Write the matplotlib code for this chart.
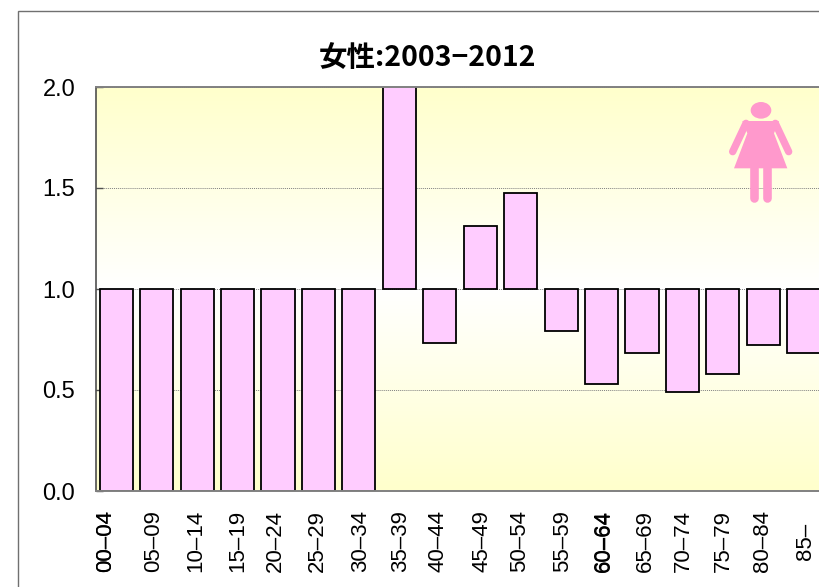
import numpy as np
import matplotlib
matplotlib.use("Agg")
import matplotlib.pyplot as plt
from matplotlib.patches import Ellipse, Polygon, Rectangle
from matplotlib.lines import Line2D
from matplotlib.transforms import ScaledTranslation

plt.rcParams['font.family'] = ['Noto Sans CJK JP', 'DejaVu Sans']

W, H = 820, 587

ages = ['00-04', '05-09', '10-14', '15-19', '20-24', '25-29', '30-34', '35-39', '40-44',
        '45-49', '50-54', '55-59', '60-64', '65-69', '70-74', '75-79', '80-84', '85-']
values = [0, 0, 0, 0, 0, 0, 0, 2.4, 0.735, 1.31, 1.475, 0.79, 0.53, 0.685, 0.49, 0.58, 0.725, 0.685]
base = 1.0
yticks = [0.0, 0.5, 1.0, 1.5, 2.0]
title = '女性:2003\u22122012'
# the labels in the source sit a bit off their bars (pixels)
label_shift = [-11, -2.7, -1, 0.4, -3, -1.5, 2, 1.6, -1.8, 1.7, -0.7, 1.8, 1.4, 2.9, 0.5, 0, -0.4, 2.1]


def fx(x):
    return x / W


def fy(y):
    return 1 - y / H


def zx(x):
    # icon coordinates
    return fx(700 + x / 3)


def zy(y):
    return fy(80 + y / 3)


fig = plt.figure(figsize=(W / 100, H / 100), dpi=100, facecolor='white')

# chart frame, runs off the right and bottom edges
fig.add_artist(Rectangle((fx(18), fy(H + 20)), 1, fy(11) - fy(H + 20), transform=fig.transFigure,
                         fill=False, edgecolor='#707070', lw=1.0))

ax = fig.add_axes([fx(96), fy(491), 728 / W, 404 / H])

# yellow-white-yellow background
yellow = np.array([255, 255, 204]) / 255
white = np.array([1.0, 1.0, 1.0])
n = np.linspace(0, 1, 101)
t = np.abs(n - 0.5)[:, None] * 2
img = (yellow * t + white * (1 - t))[:, None, :]
ax.imshow(img, extent=(-0.5, 17.5, 0, 2), origin='lower', aspect='auto', zorder=0, interpolation='bilinear')

ax.set_xlim(-0.5, 17.5)
ax.set_ylim(0, 2)
ax.yaxis.grid(True, color='#808080', lw=0.7, ls=(0, (1, 1)), zorder=1)
ax.set_axisbelow(True)

x = np.arange(len(ages))
heights = np.array(values) - base
ax.bar(x, heights, bottom=base, width=0.82, facecolor='#FFCCFF', edgecolor='black', lw=1.3, zorder=2)

ax.set_yticks(yticks)
ax.set_yticklabels(['%.1f' % v for v in yticks], fontsize=17, family='Liberation Sans')
ax.tick_params(axis='y', direction='in', length=5, width=1.0, color='#505050', pad=15)
ax.set_xticks(x)
ax.set_xticklabels([a.replace('-', '\u2013') for a in ages], rotation=90, fontsize=16,
                   va='center', ha='center', family='Liberation Sans')
ax.tick_params(axis='x', length=0, pad=36)
for lab, dx in zip(ax.get_xticklabels(), label_shift):
    lab.set_transform(lab.get_transform() + ScaledTranslation(dx / 100, 0, fig.dpi_scale_trans))

for s in ['top', 'bottom']:
    ax.spines[s].set_color('#808080')
    ax.spines[s].set_linewidth(1.4)
ax.spines['left'].set_color('#404040')
ax.spines['left'].set_linewidth(1.1)
ax.spines['right'].set_visible(False)

fig.text(fx(428), fy(58), title, fontsize=20.5, fontweight='bold', ha='center', va='center')

# the two labels that look doubled in the source
for px, i in [(106, 0), (604, 12)]:
    fig.text(fx(px), fy(541), ages[i].replace('-', '\u2013'), rotation=90, fontsize=16,
             ha='center', va='center', family='Liberation Sans')

# woman icon
pink = '#FF99CC'
fig.add_artist(Ellipse((zx(183), zy(91)), 62 / 3 / W, 50 / 3 / H, transform=fig.transFigure, color=pink, lw=0))
dress = [(127, 123), (237, 123), (222, 160), (262, 265), (102, 265), (142, 160)]
fig.add_artist(Polygon([(zx(a), zy(b)) for a, b in dress], closed=True, transform=fig.transFigure,
                       facecolor=pink, edgecolor='none'))
for xs, ys, lw in [((138, 98), (130, 215), 5.3), ((226, 266), (130, 215), 5.3),
                   ((162, 162), (265, 355), 6.2), ((201, 201), (265, 355), 6.2)]:
    fig.add_artist(Line2D([zx(v) for v in xs], [zy(v) for v in ys], transform=fig.transFigure,
                          color=pink, lw=lw, solid_capstyle='round'))

plt.savefig('out.png', dpi=100)
